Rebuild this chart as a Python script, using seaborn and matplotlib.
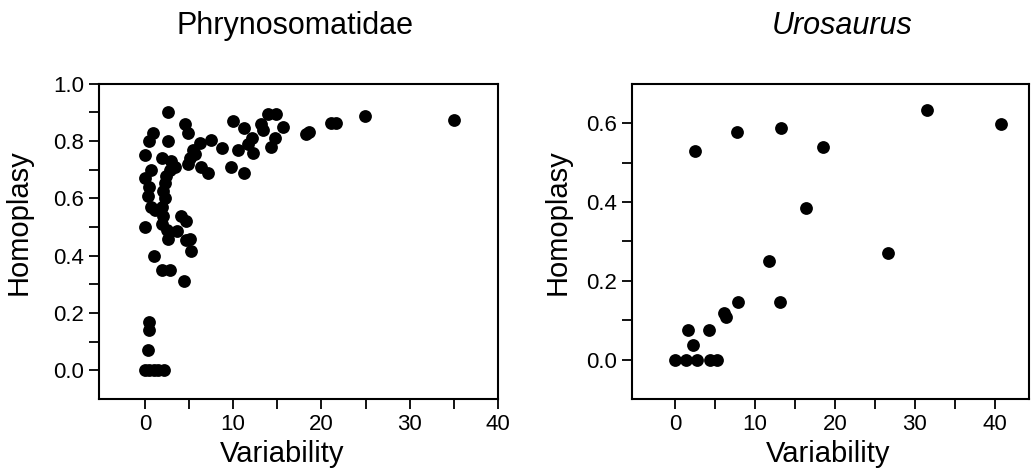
import matplotlib
matplotlib.use("Agg")
import matplotlib.pyplot as plt
import seaborn as sns
import pandas as pd

# Phrynosomatidae (left panel)
phry_var = [2.6, 4.5, 4.9, 0.9, 0.5, 2.6, 0.0, 1.9, 3.0, 3.4, 2.8, 0.75, 0.0, 2.4, 2.3,
            0.5, 0.4, 2.1, 2.3, 0.75, 1.1, 1.9, 2.1, 4.1, 4.7, 0.0, 1.9, 2.45, 2.6, 3.6,
            4.7, 5.1, 5.2, 1.05, 1.9, 2.8, 4.4, 0.5, 0.5, 0.3, 0.0, 0.5, 1.0, 1.5, 2.2,
            10.0, 11.2, 13.9, 14.9, 13.2, 13.4, 15.6, 14.7, 12.1, 11.7, 10.5, 12.3, 14.3,
            9.8, 11.2, 7.5, 8.7, 6.2, 5.5, 5.1, 4.9, 6.4, 7.15, 18.2, 18.6, 21.1, 21.6,
            24.9, 35.0, 5.65]
phry_hom = [0.90, 0.86, 0.83, 0.83, 0.80, 0.80, 0.75, 0.74, 0.73, 0.71, 0.70, 0.70, 0.67,
            0.68, 0.655, 0.64, 0.61, 0.625, 0.60, 0.57, 0.56, 0.57, 0.54, 0.54, 0.52, 0.50,
            0.51, 0.49, 0.46, 0.485, 0.455, 0.46, 0.415, 0.40, 0.35, 0.35, 0.31, 0.17, 0.14,
            0.07, 0.0, 0.0, 0.0, 0.0, 0.0, 0.87, 0.845, 0.895, 0.895, 0.86, 0.84, 0.85,
            0.81, 0.81, 0.79, 0.77, 0.76, 0.78, 0.71, 0.69, 0.805, 0.775, 0.795, 0.77,
            0.74, 0.72, 0.71, 0.69, 0.825, 0.833, 0.863, 0.863, 0.887, 0.874, 0.755]

# Urosaurus (right panel)
uro_var = [0.0, 1.3, 2.7, 4.4, 5.3, 1.6, 2.3, 4.25, 6.1, 6.4, 7.9, 13.1, 11.8, 16.4,
           26.7, 2.5, 7.7, 13.3, 18.5, 31.5, 40.8]
uro_hom = [0.0, 0.0, 0.0, 0.0, 0.0, 0.074, 0.036, 0.074, 0.119, 0.108, 0.145, 0.145,
           0.249, 0.386, 0.27, 0.53, 0.578, 0.587, 0.539, 0.633, 0.598]

sns.set_theme(style="ticks")
plt.rcParams['font.family'] = ['Liberation Sans', 'DejaVu Sans']
plt.rcParams['text.color'] = 'black'
plt.rcParams['axes.labelcolor'] = 'black'

fig = plt.figure(figsize=(10.34, 4.71), dpi=100)
ax1 = fig.add_axes([0.0957, 0.153, 0.386, 0.669])
ax2 = fig.add_axes([0.6112, 0.153, 0.384, 0.669])

df1 = pd.DataFrame({"Variability": phry_var, "Homoplasy": phry_hom})
df2 = pd.DataFrame({"Variability": uro_var, "Homoplasy": uro_hom})

sns.scatterplot(data=df1, x="Variability", y="Homoplasy", ax=ax1, s=85,
                color="black", linewidth=0)
sns.scatterplot(data=df2, x="Variability", y="Homoplasy", ax=ax2, s=85,
                color="black", linewidth=0)

ax1.set_xlim(-5.2, 40)
ax1.set_ylim(-0.1, 1.0)
ax1.set_xticks([0, 10, 20, 30, 40])
ax1.set_xticks([5, 15, 25, 35], minor=True)
ax1.set_yticks([0.0, 0.2, 0.4, 0.6, 0.8, 1.0])
ax1.set_yticks([0.1, 0.3, 0.5, 0.7, 0.9], minor=True)
ax1.set_title("Phrynosomatidae", fontsize=22, pad=36, x=0.491)

ax2.set_xlim(-5.4, 44.3)
ax2.set_ylim(-0.1, 0.7)
ax2.set_xticks([0, 10, 20, 30, 40])
ax2.set_xticks([5, 15, 25, 35], minor=True)
ax2.set_yticks([0.0, 0.2, 0.4, 0.6])
ax2.set_yticks([0.1, 0.3, 0.5], minor=True)
ax2.set_title("Urosaurus", fontsize=22, pad=36, style="italic", x=0.528)

for ax in (ax1, ax2):
    ax.set_xlabel("Variability", fontsize=21)
    ax.set_ylabel("Homoplasy", fontsize=21)
    ax.tick_params(which="both", direction="out", length=7, width=1.3,
                   labelsize=16, top=False, right=False, colors="black")
    for sp in ax.spines.values():
        sp.set_linewidth(1.5)
        sp.set_color("black")

ax1.xaxis.set_label_coords(0.46, -0.13)
ax2.xaxis.set_label_coords(0.495, -0.13)
ax1.yaxis.set_label_coords(-0.165, 0.562)
ax2.yaxis.set_label_coords(-0.151, 0.562)

fig.savefig("out.png", dpi=100)
